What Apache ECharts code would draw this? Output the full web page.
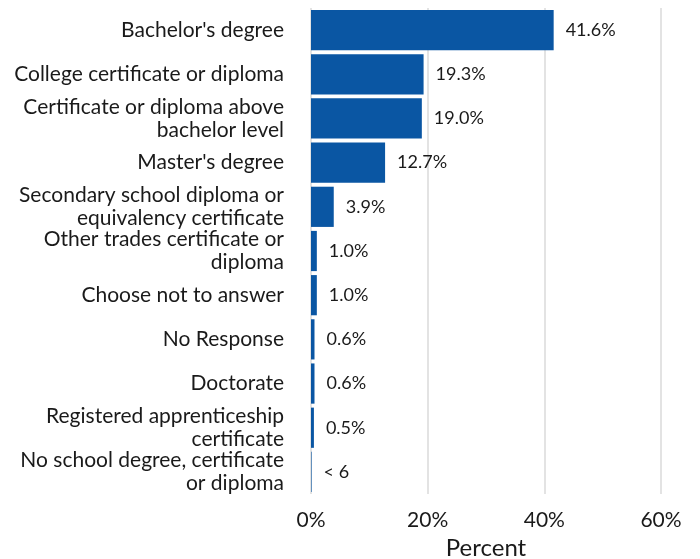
<!DOCTYPE html>
<html>
<head>
<meta charset="utf-8">
<script src="https://cdn.jsdelivr.net/npm/echarts@6/dist/echarts.min.js"></script>
<style>html,body{margin:0;padding:0;background:#fff}#chart{width:700px;height:559px}</style>
</head>
<body>
<div id="chart"></div>
<script>
// Highest education completed, share of respondents (top to bottom)
const categories = [
  "Bachelor's degree",
  "College certificate or diploma",
  "Certificate or diploma above\nbachelor level",
  "Master's degree",
  "Secondary school diploma or\nequivalency certificate",
  "Other trades certificate or\ndiploma",
  "Choose not to answer",
  "No Response",
  "Doctorate",
  "Registered apprenticeship\ncertificate",
  "No school degree, certificate\nor diploma"
];
const percents = [41.6, 19.3, 19.0, 12.7, 3.9, 1.0, 1.0, 0.6, 0.6, 0.5, 0.1];
const valueLabels = ["41.6%", "19.3%", "19.0%", "12.7%", "3.9%", "1.0%", "1.0%", "0.6%", "0.6%", "0.5%", "< 6"];
const xTicks = [0, 20, 40, 60];

const FONT = "Lato, 'Open Sans', sans-serif";
const chart = echarts.init(document.getElementById('chart'));
chart.setOption({
  animation: false,
  grid: { left: 311, right: 39, top: 8, bottom: 65, containLabel: false, outerBoundsMode: 'none' },
  xAxis: {
    type: 'value', min: xTicks[0], max: xTicks[xTicks.length - 1], interval: 20,
    name: 'Percent', nameLocation: 'middle', nameGap: 39,
    nameTextStyle: { fontFamily: FONT, fontSize: 24, color: '#1a1a1a' },
    axisLine: { show: false }, axisTick: { show: false },
    axisLabel: { formatter: v => v + '%', fontFamily: FONT, fontSize: 21, color: '#1a1a1a', margin: 16 },
    splitLine: { show: true, lineStyle: { color: '#e3e3e3', width: 2 } }
  },
  yAxis: {
    type: 'category', data: categories, inverse: true,
    axisLine: { show: false }, axisTick: { show: false },
    axisLabel: { interval: 0, fontFamily: FONT, fontSize: 21, color: '#1a1a1a', lineHeight: 23, margin: 27, align: 'right' }
  },
  series: [{
    type: 'bar', data: percents, barCategoryGap: '9%',
    itemStyle: { color: '#0a56a3' },
    label: {
      show: true, position: 'right', distance: 12,
      formatter: p => valueLabels[p.dataIndex],
      fontFamily: FONT, fontSize: 18, color: '#1a1a1a'
    }
  }]
});
</script>
</body>
</html>
